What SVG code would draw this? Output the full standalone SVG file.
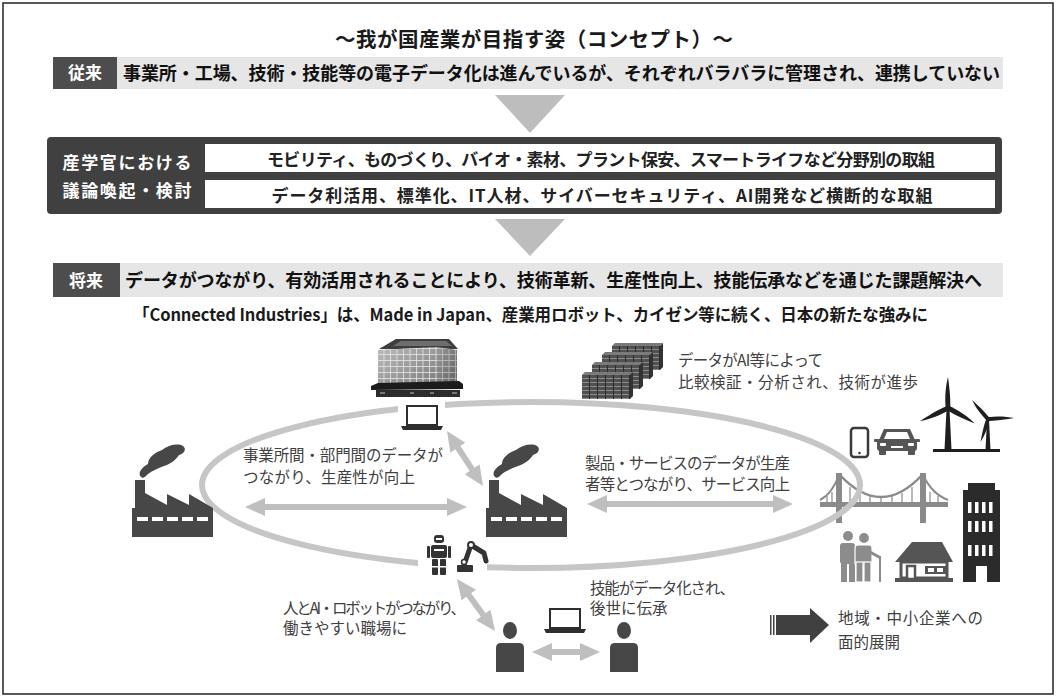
<svg xmlns="http://www.w3.org/2000/svg" width="1057" height="697" viewBox="0 0 1057 697">
<defs>
<style>
text { font-family: "Noto Sans CJK JP", "Noto Sans", sans-serif; }
.ttl { font-size:20.5px; font-weight:700; fill:#1a1a1a; }
.bar { font-size:18px; font-weight:700; fill:#111; }
.tag { font-size:17px; font-weight:700; fill:#fff; }
.row { font-size:17px; font-weight:700; fill:#222; }
.sub { font-size:16.5px; font-weight:700; fill:#1a1a1a; }
.lbl { font-size:15.5px; fill:#404040; }
.arw { stroke:#bfbfbf; stroke-width:6; fill:none; marker-start:url(#ah); marker-end:url(#ah); }
.tri { fill:#bdbdbd; }
.ico { fill:#474747; }
</style>
<marker id="ah" viewBox="0 0 20 18" refX="1" refY="9" markerWidth="20" markerHeight="18" markerUnits="userSpaceOnUse" orient="auto-start-reverse">
<path d="M0,0 L20,9 L0,18 Z" fill="#bfbfbf"/>
</marker>
<pattern id="rackpat" width="8" height="4" patternUnits="userSpaceOnUse">
<rect width="8" height="4" fill="#505050"/>
<rect y="3" width="7" height="1" fill="#8c8c8c"/>
<rect x="7" width="1" height="4" fill="#2b2b2b"/>
</pattern>
<pattern id="gridp" width="6.5" height="6" patternUnits="userSpaceOnUse">
<path d="M0,0.4 H6.5 M0.4,0 V6" stroke="#e4e4e4" stroke-width="0.9" fill="none"/>
</pattern>
<linearGradient id="glassA" x1="0" y1="0" x2="1" y2="1">
<stop offset="0" stop-color="#bdbdbd"/><stop offset="0.5" stop-color="#9c9c9c"/><stop offset="1" stop-color="#7c7c7c"/>
</linearGradient>
<linearGradient id="glassB" x1="0" y1="0" x2="1" y2="1">
<stop offset="0" stop-color="#9a9a9a"/><stop offset="1" stop-color="#606060"/>
</linearGradient>
<mask id="ringgap">
<rect width="1057" height="697" fill="#fff"/>
<rect x="398" y="396" width="47" height="20" fill="#000"/>
<rect x="418" y="552" width="69" height="24" fill="#000"/>
</mask>
<g id="factory">
<path d="M9,34 C5,30 10,24 16,21 C16,14 24,9 30,7 C36,2 46,0 51,3 C55,6 52,11 47,12 C44,17 38,21 32,23 C26,25 20,28 16,31 C13,34 11,36 9,34 Z" class="ico"/>
<path d="M0,94 V65 H3 V37 H13 V50 L35,62 V51 L57,62 V51 L81,65 V94 Z" class="ico"/>
<g fill="#fff">
<rect x="5" y="74" width="11" height="4"/><rect x="20" y="74" width="11" height="4"/><rect x="35" y="74" width="11" height="4"/><rect x="50" y="74" width="11" height="4"/><rect x="65" y="74" width="11" height="4"/>
</g>
</g>
<g id="rackrow">
<polygon points="0,0 3,-3 51,-3 48,0" fill="#7a7a7a"/>
<rect width="48" height="24" fill="url(#rackpat)"/>
<polygon points="48,0 51,-3 51,21 48,24" fill="#333"/>
</g>
<g id="laptop">
<rect x="5" y="1" width="30" height="19" fill="#fff" stroke="#2e2e2e" stroke-width="2"/>
<path d="M-1,21 H41 L39,25 H1 Z" fill="#2e2e2e"/>
</g>
<g id="person">
<ellipse cx="14" cy="8.5" rx="7" ry="8.5"/>
<path d="M0,50 V26 Q0,21 5,21 H23 Q28,21 28,26 V50 Z"/>
</g>
<path id="blade" d="M-2.2,0 C-3.4,-10 -2.4,-22 0,-31 C1.2,-22 2.8,-10 2.2,0 Z"/>
</defs>

<rect width="1057" height="697" fill="#fff"/>
<rect x="3" y="3" width="1050" height="691" fill="none" stroke="#222" stroke-width="1.5"/>

<!-- heading -->
<g id="title">
<text class="ttl" x="534" y="47" text-anchor="middle" textLength="398">～我が国産業が目指す姿（コンセプト）～</text>
</g>

<!-- current state -->
<g id="row-before">
<rect x="53" y="57" width="64" height="32" fill="#4d4d4d"/>
<rect x="117" y="57" width="886" height="32" fill="#e6e6e6"/>
<text class="tag" x="85" y="79" text-anchor="middle">従来</text>
<text class="bar" x="123" y="80" textLength="877">事業所・工場、技術・技能等の電子データ化は進んでいるが、それぞれバラバラに管理され、連携していない</text>
</g>

<g id="step-1"><polygon class="tri" points="495,95 565,95 530,133"/></g>

<!-- discussion panel -->
<g id="panel">
<rect x="47" y="137" width="955" height="77" rx="4" fill="#404040"/>
<rect x="205" y="144" width="790" height="28" fill="#fff"/>
<rect x="205" y="180" width="790" height="28" fill="#fff"/>
<text class="tag" x="127" y="169" text-anchor="middle" font-size="18" textLength="129">産学官における</text>
<text class="tag" x="127" y="197" text-anchor="middle" font-size="18" textLength="129">議論喚起・検討</text>
<text class="row" x="601" y="166" text-anchor="middle" textLength="668">モビリティ、ものづくり、バイオ・素材、プラント保安、スマートライフなど分野別の取組</text>
<text class="row" x="602" y="202" text-anchor="middle" textLength="661">データ利活用、標準化、IT人材、サイバーセキュリティ、AI開発など横断的な取組</text>
</g>

<g id="step-2"><polygon class="tri" points="495,219 565,219 530,256"/></g>

<!-- future state -->
<g id="row-after">
<rect x="53" y="263" width="67" height="34" fill="#4d4d4d"/>
<rect x="120" y="263" width="883" height="34" fill="#e6e6e6"/>
<text class="tag" x="86" y="287" text-anchor="middle">将来</text>
<text class="bar" x="125" y="287" textLength="857">データがつながり、有効活用されることにより、技術革新、生産性向上、技能伝承などを通じた課題解決へ</text>
</g>

<g id="tagline">
<text class="sub" x="133" y="321" textLength="795">「Connected Industries」は、Made in Japan、産業用ロボット、カイゼン等に続く、日本の新たな強みに</text>
</g>

<!-- city: bridge sits under the ring -->
<g id="bridge" stroke="#8a8a8a" fill="none">
<path d="M839,474 Q881,520 923,474" stroke-width="2.5"/>
<path d="M839,475 Q832,494 820,500 M923,475 Q932,494 948,500" stroke-width="2"/>
<path d="M850,487 V502 M860,493 V502 M870,496 V502 M881,497 V502 M892,496 V502 M902,493 V502 M912,487 V502 M827,496 V502 M832,492 V502 M930,492 V502 M938,496 V502" stroke-width="1.2"/>
<rect x="820" y="502" width="128" height="5" fill="#8a8a8a" stroke="none"/>
<rect x="836" y="473" width="6" height="50" fill="#8a8a8a" stroke="none"/>
<rect x="920" y="473" width="6" height="50" fill="#8a8a8a" stroke="none"/>
</g>

<!-- data loop -->
<g id="connectors">
<ellipse cx="531" cy="485" rx="329" ry="83" fill="none" stroke="#c6c6c6" stroke-width="6" mask="url(#ringgap)"/>
<line class="arw" x1="264" y1="507" x2="448" y2="507"/>
<line class="arw" x1="606" y1="504" x2="774" y2="504"/>
<line class="arw" x1="457.4" y1="446.9" x2="472.6" y2="470.1"/>
<line class="arw" x1="468.2" y1="594.3" x2="483.8" y2="615.7"/>
<line class="arw" x1="551" y1="652" x2="581" y2="652"/>
</g>

<!-- head office building -->
<g id="hq">
<polygon points="379,349 396,339 449,339 458,349" fill="#3e3e3e"/>
<polygon points="393,346 401,341 446,341 452,346" fill="#6e6e6e"/>
<polygon points="378,350 437,347 437,385 378,386" fill="url(#glassA)"/>
<polygon points="378,350 437,347 437,385 378,386" fill="url(#gridp)"/>
<polygon points="437,347 457,350 457,382 437,385" fill="url(#glassB)"/>
<polygon points="437,347 457,350 457,382 437,385" fill="url(#gridp)" opacity="0.6"/>
<polygon points="371,386 378,383 459,381 463,384 463,389 371,390" fill="#1c1c1c"/>
<rect x="376" y="390" width="84" height="7" fill="#2c2c2c"/>
<g fill="#777"><rect x="380" y="392" width="5" height="2"/><rect x="410" y="392" width="4" height="2"/><rect x="430" y="392" width="4" height="2"/><rect x="452" y="392" width="5" height="2"/></g>
</g>
<g id="laptop-top"><use href="#laptop" x="402" y="405"/></g>

<!-- server farm -->
<g id="servers">
<use href="#rackrow" transform="translate(612,346)"/>
<use href="#rackrow" transform="translate(602,355)"/>
<use href="#rackrow" transform="translate(592,365)"/>
<use href="#rackrow" transform="translate(582,375)"/>
</g>
<g id="note-ai">
<text class="lbl" x="678" y="366" textLength="145">データがAI等によって</text>
<text class="lbl" x="678" y="388" textLength="240">比較検証・分析され、技術が進歩</text>
</g>

<g id="factory-left"><use href="#factory" x="132" y="443"/></g>
<g id="factory-center"><use href="#factory" x="486" y="443"/></g>

<g id="note-sites">
<text class="lbl" x="243" y="461" textLength="200">事業所間・部門間のデータが</text>
<text class="lbl" x="243" y="483" textLength="172">つながり、生産性が向上</text>
</g>
<g id="note-products">
<text class="lbl" x="585" y="469" textLength="205">製品・サービスのデータが生産</text>
<text class="lbl" x="585" y="490" textLength="205">者等とつながり、サービス向上</text>
</g>

<!-- phone and car -->
<g id="phone">
<rect x="851" y="428" width="17" height="29" rx="3" fill="#fff" stroke="#3a3a3a" stroke-width="2.5"/>
<circle cx="859.5" cy="453" r="1.3" fill="#3a3a3a"/>
</g>
<g id="car" fill="#555">
<path d="M884,429 H910 L915,440 H879 Z"/>
<path d="M887,432 H907 L910,439 H884 Z" fill="#fff"/>
<rect x="877" y="439" width="40" height="12" rx="3"/>
<rect x="874" y="439" width="5" height="3" rx="1"/>
<rect x="915" y="439" width="5" height="3" rx="1"/>
<rect x="879" y="449" width="7" height="6" rx="1"/>
<rect x="908" y="449" width="7" height="6" rx="1"/>
<g fill="#fff"><rect x="880" y="443" width="6" height="3" rx="1"/><rect x="908" y="443" width="6" height="3" rx="1"/><rect x="891" y="446" width="12" height="2"/></g>
</g>

<!-- wind turbines -->
<g id="turbines" fill="#1f1f1f">
<rect x="933" y="449" width="67" height="3"/>
<polygon points="946.5,409 949.5,409 951.5,450 944.5,450"/>
<use href="#blade" transform="translate(948,408) rotate(0)"/>
<use href="#blade" transform="translate(948,408) rotate(120)"/>
<use href="#blade" transform="translate(948,408) rotate(245)"/>
<circle cx="948" cy="408" r="2.8"/>
<polygon points="987,420 989,420 990.5,450 985.5,450"/>
<use href="#blade" transform="translate(988,419) rotate(-40) scale(0.8)"/>
<use href="#blade" transform="translate(988,419) rotate(88) scale(0.85)"/>
<use href="#blade" transform="translate(988,419) rotate(198) scale(0.78)"/>
<circle cx="988" cy="419" r="2.3"/>
</g>

<!-- elderly couple -->
<g id="couple" fill="#8c8c8c">
<circle cx="848" cy="536" r="5"/>
<rect x="840" y="543" width="15" height="21" rx="3"/>
<rect x="841" y="560" width="6" height="22"/>
<rect x="849" y="560" width="6" height="22"/>
<g stroke="#fff" stroke-width="1.2">
<circle cx="864" cy="538" r="5.5"/>
<rect x="855" y="545" width="17" height="21" rx="3"/>
<rect x="856" y="562" width="7" height="20"/>
<rect x="864" y="562" width="7" height="20"/>
</g>
<path d="M870,552 L879,557" stroke="#8c8c8c" stroke-width="3" stroke-linecap="round"/>
<path d="M880,556 V582" stroke="#8c8c8c" stroke-width="2"/>
</g>

<!-- house -->
<g id="house">
<polygon points="895,562 912,542 942,542 953,562" fill="#555"/>
<rect x="901" y="562" width="46" height="16" fill="#fff" stroke="#555" stroke-width="3"/>
<rect x="907" y="566" width="8" height="13" fill="#fff" stroke="#555" stroke-width="2.5"/>
<rect x="925" y="566" width="21" height="8" fill="#555"/>
<rect x="928" y="568" width="6" height="4" fill="#fff"/>
<rect x="937" y="568" width="6" height="4" fill="#fff"/>
<rect x="895" y="578" width="58" height="4" fill="#555"/>
</g>

<!-- office tower -->
<g id="tower">
<rect x="968" y="483" width="27" height="8" fill="#2b2b2b"/>
<rect x="963" y="490" width="37" height="92" fill="#2b2b2b"/>
<g fill="#fff">
<rect x="968" y="502" width="3.5" height="11"/><rect x="975" y="502" width="3.5" height="11"/><rect x="982" y="502" width="3.5" height="11"/><rect x="989" y="502" width="3.5" height="11"/>
<rect x="968" y="521" width="3.5" height="11"/><rect x="975" y="521" width="3.5" height="11"/><rect x="982" y="521" width="3.5" height="11"/><rect x="989" y="521" width="3.5" height="11"/>
<rect x="968" y="545" width="3.5" height="11"/><rect x="975" y="545" width="3.5" height="11"/><rect x="982" y="545" width="3.5" height="11"/><rect x="989" y="545" width="3.5" height="11"/>
<rect x="976" y="566" width="11" height="16"/>
</g>
</g>

<!-- robots -->
<g id="robots" fill="#333">
<rect x="434" y="535" width="10" height="8" rx="3"/>
<rect x="431" y="545" width="16" height="13" rx="2"/>
<rect x="427" y="546" width="3" height="12" rx="1"/>
<rect x="448" y="546" width="3" height="12" rx="1"/>
<rect x="432" y="559" width="6" height="16" rx="1"/>
<rect x="440" y="559" width="6" height="16" rx="1"/>
<g fill="#fff"><rect x="436" y="538" width="6" height="2"/><rect x="434" y="549" width="10" height="2"/><rect x="432" y="566" width="6" height="1.5"/><rect x="440" y="566" width="6" height="1.5"/></g>
<rect x="457" y="565" width="16" height="7" rx="1"/>
<path d="M464,565 L471,545 L484,553 L486,561" fill="none" stroke="#333" stroke-width="5" stroke-linejoin="round" stroke-linecap="round"/>
<circle cx="471" cy="545" r="3" fill="#fff" stroke="#333" stroke-width="2"/>
<circle cx="464" cy="562" r="2.5" fill="#fff" stroke="#333" stroke-width="1.5"/>
</g>

<g id="note-robots">
<text class="lbl" x="283" y="614" textLength="183">人とAI・ロボットがつながり、</text>
<text class="lbl" x="283" y="634">働きやすい職場に</text>
</g>

<g id="laptop-bottom"><use href="#laptop" x="545" y="608"/></g>
<g id="person-left" class="ico"><use href="#person" x="496" y="622"/></g>
<g id="person-right" class="ico"><use href="#person" x="610" y="622"/></g>

<g id="note-skills">
<text class="lbl" x="590" y="594" textLength="145">技能がデータ化され、</text>
<text class="lbl" x="590" y="614">後世に伝承</text>
</g>

<!-- regional rollout -->
<g id="rollout">
<g fill="#404040">
<rect x="770" y="615" width="1.5" height="20"/>
<rect x="773" y="615" width="1.5" height="20"/>
<rect x="776" y="615" width="35" height="20"/>
<polygon points="810,608 829,625 810,643"/>
</g>
<text class="lbl" x="838" y="624" textLength="145">地域・中小企業への</text>
<text class="lbl" x="838" y="648">面的展開</text>
</g>
</svg>
